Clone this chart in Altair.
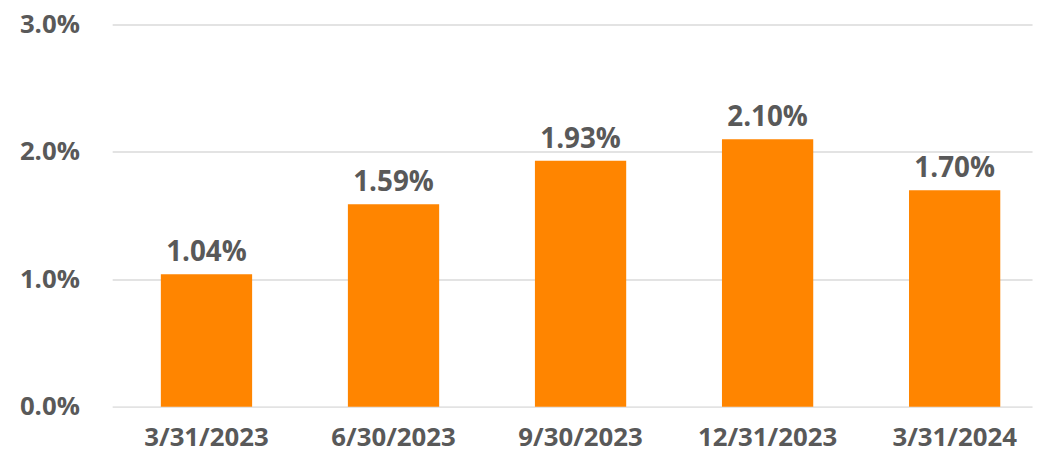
import altair as alt
import pandas as pd

dates = ["3/31/2023", "6/30/2023", "9/30/2023", "12/31/2023", "3/31/2024"]
values = [0.0104, 0.0159, 0.0193, 0.0210, 0.0170]
y_ticks = [0.0, 0.01, 0.02, 0.03]

df = pd.DataFrame({"date": dates, "value": values})

FONT = "Open Sans"
GREY = "#595959"
ORANGE = "#FF8500"

x_enc = alt.X(
    "date:N",
    sort=dates,
    title=None,
    scale=alt.Scale(paddingInner=0.512, paddingOuter=0.215, align=0.605),
    axis=alt.Axis(
        labelAngle=0,
        labelFont=FONT,
        labelFontSize=26,
        labelFontWeight="bold",
        labelColor=GREY,
        labelPadding=18,
        ticks=False,
        domain=False,
        grid=False,
    ),
)
y_enc = alt.Y(
    "value:Q",
    title=None,
    scale=alt.Scale(domain=[0, 0.03], nice=False),
    axis=alt.Axis(
        values=y_ticks,
        format=".1%",
        labelFont=FONT,
        labelFontSize=26,
        labelFontWeight="bold",
        labelColor=GREY,
        labelPadding=33,
        ticks=False,
        domain=False,
        grid=True,
        gridColor="#E3E3E3",
        gridWidth=2,
    ),
)

bars = alt.Chart(df).mark_bar(color=ORANGE).encode(x=x_enc, y=y_enc)
labels = alt.Chart(df).mark_text(
    font=FONT,
    fontSize=28,
    fontWeight="bold",
    color=GREY,
    baseline="alphabetic",
    dy=-13,
).encode(x=alt.X("date:N", sort=dates), y="value:Q", text=alt.Text("value:Q", format=".2%"))

chart = (
    alt.layer(bars, labels)
    .properties(
        width=927,
        height=385,
        background="white",
        autosize=alt.AutoSizeParams(type="none"),
        padding={"left": 105, "top": 15, "right": 6, "bottom": 44},
    )
    .configure_view(stroke=None, strokeWidth=0)
)

chart.save("out.html", embed_options={"renderer": "svg", "actions": False})
